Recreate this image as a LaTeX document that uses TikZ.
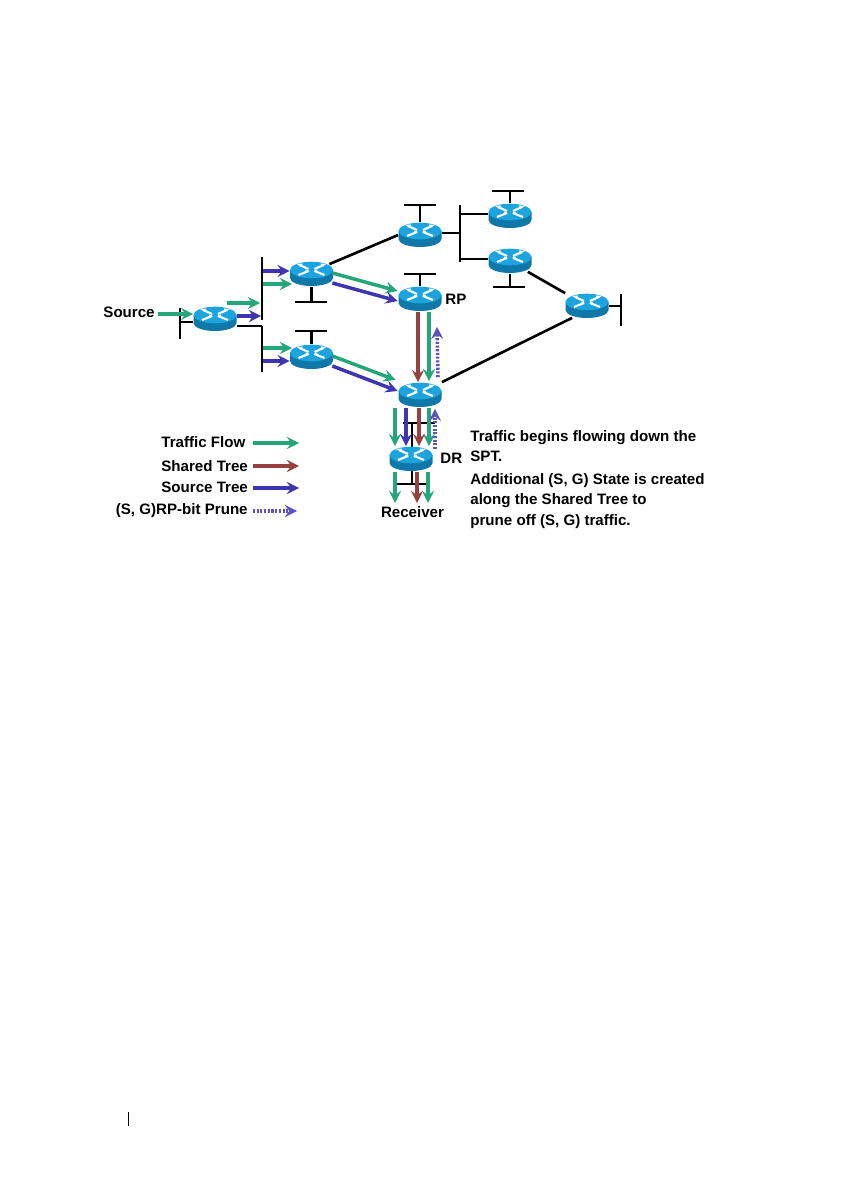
\documentclass[tikz,border=0pt]{standalone}
\usepackage{fontspec}
\setmainfont{Liberation Sans}
\definecolor{rtrtop}{HTML}{1CA4DE}
\definecolor{rtrside}{HTML}{0F78A8}
\definecolor{flowgreen}{HTML}{25A67A}
\definecolor{srcblue}{HTML}{4035B0}
\definecolor{shrbrown}{HTML}{96403F}
\tikzset{
	routerbox/.style={minimum width=0.86cm,minimum height=0.5cm,inner sep=0pt},
	lan/.style={line width=1.5pt,black},
	lbl/.style={font=\fontsize{8.6}{10}\bfseries\selectfont,inner sep=0pt},
	traffic/.style={->,line width=2pt,flowgreen},
	shared/.style={->,line width=2pt,shrbrown},
	source/.style={->,line width=2pt,srcblue},
	prune/.style={->,line width=2pt,srcblue!85,dash pattern=on 1.2pt off 0.9pt},
}
% router: name, x, y
\newcommand{\router}[3]{
	\begin{scope}[shift={(#2,#3)}]
		\fill[rtrside] (-21.5,-4) -- (-21.5,4) arc[start angle=180,end angle=0,x radius=21.5,y radius=8] -- (21.5,-4) -- cycle;
		\fill[rtrtop] (0,-4) ellipse[x radius=21.5,y radius=8.3];
		\draw[white,line width=1.2pt] (-12,-9)--(-3,-5) (12,-9)--(3,-5) (-3,-3)--(-13,1) (3,-3)--(13,1);
		\fill[white] (-15,-10)--(-9,-10.5)--(-10,-7)--cycle (15,-10)--(9,-10.5)--(10,-7)--cycle (-2,-3)--(-6,-4.5)--(-5.5,-1.5)--cycle (2,-3)--(6,-4.5)--(5.5,-1.5)--cycle;
	\end{scope}
}
\begin{document}
\begin{tikzpicture}[x=0.02cm,y=-0.02cm,>=stealth,line join=round]
	\useasboundingbox (0,0) rectangle (840,1192);
	% black lines first
	\coordinate (lanA) at (180,322);
	\coordinate (lanB) at (262,326);
	\coordinate (lanC) at (460,233);
	\coordinate (busU) at (262,257);
	\coordinate (busL) at (262,372);
	\draw[lan] (180,308)--(180,339);
	\draw[lan] (busU)--(262,320);
	\draw[lan] (lanB)--(busL);
	\draw[lan] (460,205)--(460,262);
	\draw[lan] (621,294)--(621,326);
	\node[routerbox] (rsrc) at (215,319) {};
	\node[routerbox] (rup) at (311.5,274) {};
	\node[routerbox] (rlow) at (311.5,357) {};
	\node[routerbox] (rtop) at (420,235) {};
	\node[routerbox] (rp) at (420,299) {};
	\node[routerbox] (dr) at (420,395) {};
	\node[routerbox] (ra) at (510,216) {};
	\node[routerbox] (rb) at (510,261) {};
	\node[routerbox] (rc) at (587,306) {};
	\node[routerbox] (rcv) at (411,459) {};
	\draw[lan] (lanA)--(rsrc.west|-lanA);
	\draw[lan] (rsrc.east|-lanB)--(lanB);
	\draw[lan] (rup.north east)++(-4,3)--(rtop.west);
	\draw[lan] (rb.south east)++(-4,-2)--(rc.north west);
	\draw[lan] (rc.south west)++(7,-1)--(dr.north east);
	\draw[lan] (rtop.east|-lanC)--(lanC);
	\draw[lan] (460,214)--(ra.west|-460,214);
	\draw[lan] (460,259)--(rb.west|-460,259);
	\draw[lan] (rc.east)--(621,306);
	% stubs
	\draw[lan] (rup.south)--(311.5,302) (295,302)--(327,302);
	\draw[lan] (rlow.north)--(311.5,331) (295,331)--(327,331);
	\draw[lan] (rtop.north)--(420,205) (404,205)--(436,205);
	\draw[lan] (rp.north)--(420,274) (404,274)--(436,274);
	\draw[lan] (ra.north)--(510,191) (492,191)--(524,191);
	\draw[lan] (rb.south)--(510,287) (493,287)--(525,287);
	\draw[lan] (412,423)--(412,447) (403,423)--(435,423);
	\draw[lan] (412,471)--(412,484) (397,484)--(427,484);
	\router{rsrc}{215}{319}
	\router{rup}{311.5}{274}
	\router{rlow}{311.5}{357}
	\router{rtop}{420}{235}
	\router{rp}{420}{299}
	\router{dr}{420}{395}
	\router{ra}{510}{216}
	\router{rb}{510}{261}
	\router{rc}{587}{306}
	\router{rcv}{411}{459}
	% labels
	\node[lbl,anchor=base east] (srclbl) at (155,318) {Source};
	\node[lbl,anchor=base west] (rplbl) at (445,305) {RP};
	\node[lbl,anchor=base west] (drlbl) at (440,463) {DR};
	\node[lbl,anchor=base] (rcvlbl) at (412.5,517) {Receiver};
	% arrows
	\coordinate (srcin) at (158,314);
	\draw[traffic] (srcin)--(rsrc.west|-srcin);
	\coordinate (fa) at (227,303); \coordinate (fb) at (260,303);
	\draw[traffic] (fa)--(fb);
	\draw[source] (rsrc.east|-237,316)--(261,316);
	\draw[source] (263,271)--(rup.west|-263,271);
	\draw[traffic] (263,284)--(292,284);
	\draw[traffic] (263,348)--(292,348);
	\draw[source] (263,361)--(rlow.west|-263,361);
	\draw[traffic] ([shift={(-1,-1)}]rup.east)--([shift={(-0.5,-8)}]rp.west);
	\draw[source] ([shift={(-1,9)}]rup.east)--([shift={(-0.5,2)}]rp.west);
	\draw[traffic] ([shift={(-1,-1)}]rlow.east)--([shift={(-2.5,-15)}]dr.west);
	\draw[source] ([shift={(-1,9)}]rlow.east)--([shift={(-0.5,-4)}]dr.west);
	\draw[shared] ([shift={(-2,0)}]rp.south)--([shift={(-2,0)}]dr.north);
	\draw[traffic] ([shift={(9,0)}]rp.south)--([shift={(9,-1)}]dr.north);
	\draw[prune] ([shift={(18,-5)}]dr.north)--([shift={(17,15)}]rp.south);
	\draw[traffic] ([shift={(-25,0)}]dr.south)--([shift={(-16,0)}]rcv.north);
	\draw[source] ([shift={(-14,0)}]dr.south)--([shift={(-5,0)}]rcv.north);
	\draw[shared] ([shift={(-1,0)}]dr.south)--([shift={(8,0)}]rcv.north);
	\draw[traffic] ([shift={(9,0)}]dr.south)--([shift={(18,0)}]rcv.north);
	\draw[prune] ([shift={(24,3)}]rcv.north)--([shift={(15,1)}]dr.south);
	\draw[traffic] ([shift={(-16,0)}]rcv.south)--(395,503);
	\draw[shared] ([shift={(6,0)}]rcv.south)--(417,503);
	\draw[traffic] ([shift={(17,0)}]rcv.south)--(428,503);
	% legend
	\node[lbl,anchor=base west] (kflow) at (161,447) {Traffic Flow};
	\node[lbl,anchor=base west] (kshared) at (161,471) {Shared Tree};
	\node[lbl,anchor=base west] (ksource) at (161,492) {Source Tree};
	\node[lbl,anchor=base east] (kprune) at (248,514) {(S, G)RP-bit Prune};
	\draw[traffic] (253,443)--(299,443);
	\draw[shared] (253,466)--(299,466);
	\draw[source] (253,488)--(299,488);
	\draw[prune] (253,511)--(297,511);
	% note
	\node[lbl,anchor=base west] (nta) at (470,441) {Traffic begins flowing down the};
	\node[lbl,anchor=base west] (ntb) at (470,461) {SPT.};
	\node[lbl,anchor=base west] (ntc) at (470,484) {Additional (S, G) State is created};
	\node[lbl,anchor=base west] (ntd) at (470,504) {along the Shared Tree to};
	\node[lbl,anchor=base west] (nte) at (470,525) {prune off (S, G) traffic.};
	% page rule
	\draw[black,line width=0.5pt] (128,1112)--(128,1126);
\end{tikzpicture}
\end{document}
